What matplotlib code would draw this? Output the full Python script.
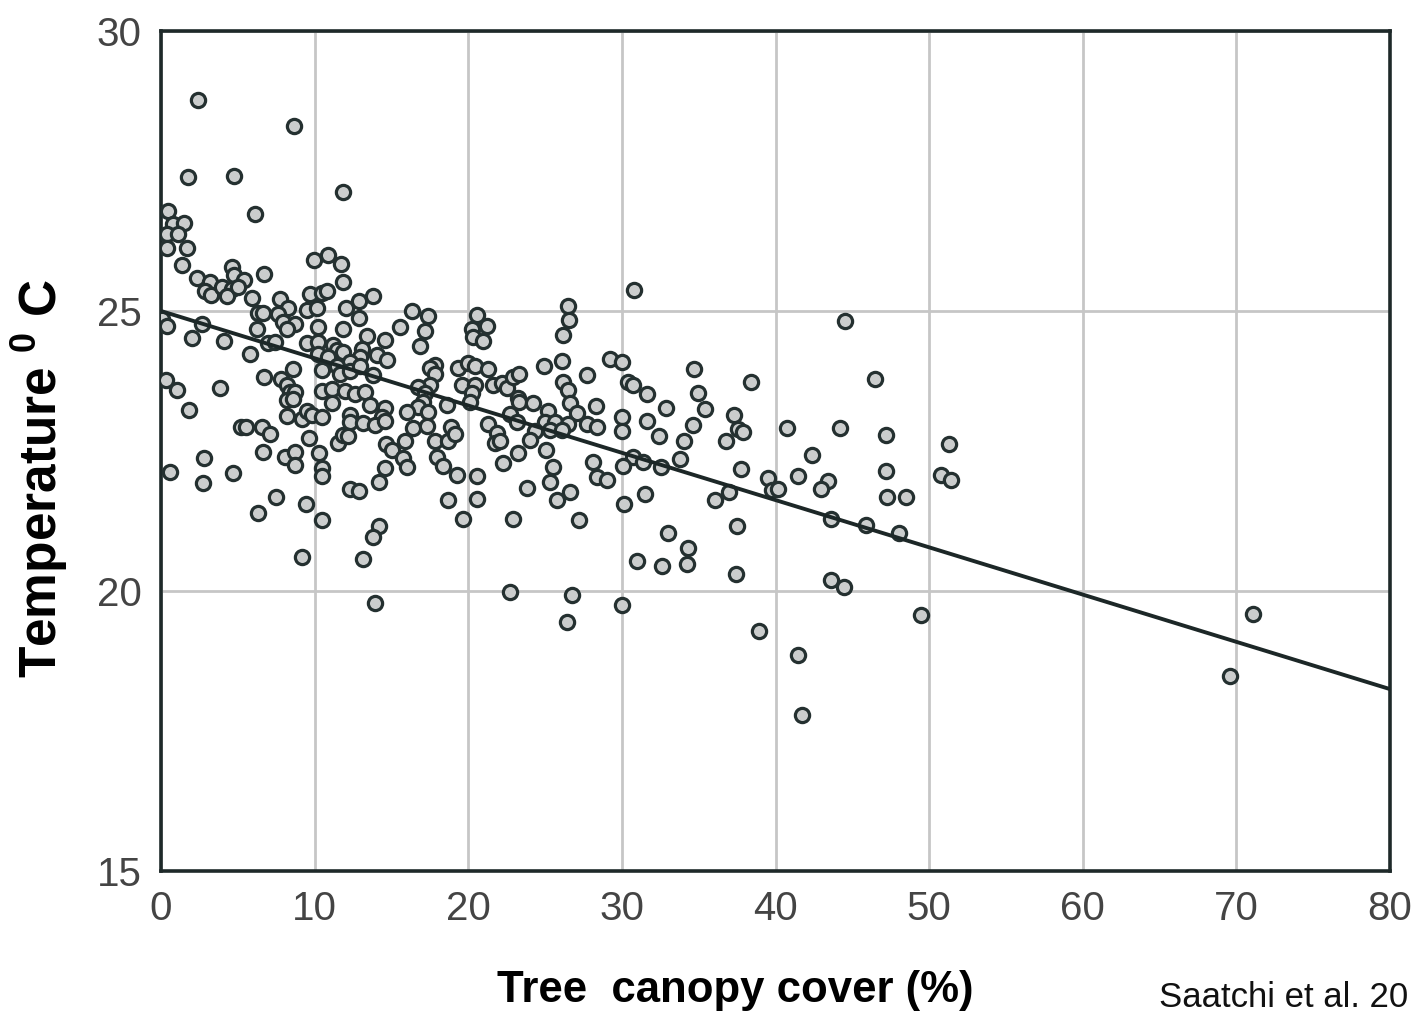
#!/usr/bin/env python3
"""
Scatter of land surface temperature against tree canopy cover, with a linear fit.
Recreation of the Saatchi et al. figure.
"""
import numpy as np
import matplotlib.pyplot as plt

# canopy cover (%) and temperature (deg C), grouped by cover range
cover_0_10 = [2.43, 8.68, 1.78, 4.77, 6.12, 0.48, 0.80, 1.52, 0.37, 1.09,
              0.41, 1.71, 1.35, 2.34, 4.60, 4.77, 5.42, 6.71, 3.19, 2.86,
              3.26, 3.95, 4.64, 4.28, 5.03, 5.94, 9.98, 7.75, 8.29, 9.70,
              10.46, 6.33, 6.66, 7.64, 9.49, 10.14, 0.05, 0.37, 2.65, 7.96,
              8.72, 6.23, 8.18, 10.24, 2.00, 4.10, 5.79, 6.99, 7.42, 9.49,
              10.24, 10.24, 8.61, 10.46, 0.31, 1.02, 3.84, 6.71, 7.81, 8.18,
              8.40, 8.72, 8.18, 8.61, 10.46, 1.84, 5.21, 5.51, 6.56, 7.10,
              8.22, 9.16, 9.49, 9.81, 10.46, 9.65, 6.66, 8.07, 8.72, 8.72,
              10.29, 10.46, 10.46, 2.80, 0.59, 2.75, 4.67, 7.47, 9.42, 6.33,
              10.46, 9.16]
temp_0_10 = [28.77, 28.31, 27.39, 27.41, 26.73, 26.79, 26.55, 26.58, 26.37, 26.37,
             26.12, 26.13, 25.82, 25.59, 25.79, 25.64, 25.55, 25.66, 25.51, 25.36,
             25.29, 25.42, 25.39, 25.26, 25.43, 25.24, 25.91, 25.21, 25.05, 25.31,
             25.33, 24.96, 24.96, 24.94, 25.01, 25.05, 24.85, 24.73, 24.76, 24.81,
             24.76, 24.67, 24.67, 24.72, 24.52, 24.47, 24.23, 24.42, 24.45, 24.42,
             24.45, 24.23, 23.96, 23.95, 23.77, 23.59, 23.63, 23.83, 23.78, 23.68,
             23.56, 23.56, 23.41, 23.43, 23.57, 23.23, 22.93, 22.93, 22.93, 22.80,
             23.13, 23.07, 23.21, 23.14, 23.11, 22.74, 22.48, 22.40, 22.48, 22.25,
             22.46, 22.19, 22.05, 22.37, 22.13, 21.93, 22.10, 21.67, 21.55, 21.40,
             21.26, 20.61]

cover_10_20 = [10.89, 11.70, 11.87, 10.79, 12.04, 12.91, 13.82, 12.91, 16.32, 17.40,
               15.56, 17.19, 20.23, 20.55, 20.33, 11.87, 13.43, 14.58, 16.86, 11.22,
               11.44, 13.07, 11.87, 10.89, 12.95, 14.04, 14.69, 12.30, 11.44, 11.65,
               12.30, 12.95, 13.82, 17.84, 17.51, 17.84, 19.35, 20.00, 20.44, 17.51,
               16.75, 19.58, 20.44, 11.11, 11.98, 12.63, 13.28, 17.19, 17.08, 20.23,
               20.12, 11.11, 13.61, 14.58, 16.75, 18.60, 17.40, 15.99, 12.30, 14.37,
               12.30, 13.12, 13.93, 14.58, 16.42, 17.30, 18.88, 11.54, 11.87, 12.19,
               14.65, 15.02, 15.88, 17.84, 18.70, 19.14, 15.77, 15.99, 17.95, 18.38,
               19.25, 20.55, 20.55, 14.58, 14.21, 12.30, 12.91, 18.70, 19.64, 14.21,
               13.78, 13.17, 13.93, 11.85]
temp_10_20 = [26.00, 25.84, 25.52, 25.36, 25.05, 25.18, 25.26, 24.87, 25.00, 24.91,
              24.72, 24.65, 24.67, 24.93, 24.53, 24.68, 24.55, 24.49, 24.38, 24.39,
              24.30, 24.32, 24.26, 24.18, 24.18, 24.21, 24.13, 24.09, 24.01, 23.88,
              23.92, 24.01, 23.86, 24.04, 23.98, 23.88, 23.99, 24.07, 24.01, 23.68,
              23.65, 23.68, 23.68, 23.60, 23.58, 23.52, 23.56, 23.53, 23.38, 23.53,
              23.38, 23.36, 23.32, 23.26, 23.29, 23.32, 23.20, 23.20, 23.14, 23.11,
              23.02, 23.00, 22.97, 23.04, 22.91, 22.94, 22.93, 22.65, 22.79, 22.76,
              22.63, 22.52, 22.67, 22.68, 22.68, 22.80, 22.37, 22.22, 22.39, 22.24,
              22.07, 22.06, 21.64, 22.20, 21.95, 21.82, 21.79, 21.63, 21.28, 21.16,
              20.97, 20.57, 19.78, 27.12]

cover_20_31 = [30.81, 26.52, 26.58, 21.24, 20.98, 26.19, 21.31, 24.93, 26.08, 29.23,
               29.99, 27.71, 21.63, 22.18, 22.51, 22.93, 23.33, 26.19, 26.52, 30.42,
               30.71, 23.26, 23.33, 24.24, 26.63, 27.06, 28.32, 22.72, 25.21, 21.31,
               23.16, 25.00, 25.65, 26.52, 27.71, 28.36, 29.99, 29.99, 21.85, 24.35,
               25.33, 26.08, 21.74, 22.07, 24.02, 23.26, 25.06, 30.75, 22.28, 25.54,
               28.14, 30.09, 25.33, 23.84, 28.36, 29.01, 26.63, 25.80, 30.16, 22.93,
               27.21, 30.97, 22.72, 26.74, 29.99, 26.45]
temp_20_31 = [25.38, 25.09, 24.84, 24.74, 24.47, 24.57, 23.96, 24.02, 24.11, 24.14,
              24.09, 23.86, 23.68, 23.71, 23.62, 23.82, 23.88, 23.74, 23.59, 23.74,
              23.67, 23.44, 23.38, 23.36, 23.35, 23.17, 23.31, 23.16, 23.22, 22.99,
              23.02, 23.02, 23.02, 22.98, 22.99, 22.93, 23.11, 22.86, 22.83, 22.86,
              22.88, 22.88, 22.65, 22.68, 22.70, 22.47, 22.52, 22.40, 22.28, 22.21,
              22.31, 22.23, 21.94, 21.84, 22.04, 21.98, 21.77, 21.63, 21.55, 21.29,
              21.27, 20.54, 19.99, 19.93, 19.75, 19.45]

cover_31_42 = [34.72, 38.39, 31.62, 34.98, 32.88, 35.42, 37.30, 31.62, 34.61, 40.73,
               37.58, 37.91, 32.44, 34.07, 36.76, 31.36, 32.53, 33.79, 37.76, 39.50,
               39.80, 40.19, 41.49, 36.98, 36.07, 31.51, 37.48, 32.99, 34.33, 32.63,
               34.22, 37.41, 38.93, 41.49, 41.70]
temp_31_42 = [23.96, 23.73, 23.51, 23.54, 23.27, 23.25, 23.14, 23.04, 22.96, 22.91,
              22.89, 22.84, 22.76, 22.68, 22.67, 22.31, 22.22, 22.35, 22.17, 22.01,
              21.80, 21.82, 22.06, 21.76, 21.63, 21.73, 21.16, 21.03, 20.77, 20.45,
              20.48, 20.30, 19.29, 18.86, 17.79]

cover_42_up = [44.53, 46.48, 44.21, 47.18, 51.30, 42.36, 43.44, 42.95, 47.18, 50.76,
               51.41, 47.25, 48.50, 43.60, 45.90, 48.06, 43.62, 44.48, 49.48, 71.11,
               69.60]
temp_42_up = [24.83, 23.79, 22.91, 22.79, 22.63, 22.42, 21.96, 21.82, 22.14, 22.07,
              21.98, 21.67, 21.68, 21.28, 21.18, 21.04, 20.20, 20.07, 19.57, 19.59,
              18.48]

# linear fit drawn on the figure
fit_intercept = 25.0
fit_slope = -0.0844

x_ticks = [0, 10, 20, 30, 40, 50, 60, 70, 80]
y_ticks = [15, 20, 25, 30]

REGULAR = ['Liberation Sans', 'DejaVu Sans']
plt.rcParams['mathtext.fontset'] = 'custom'
plt.rcParams['mathtext.rm'] = 'Liberation Sans'
plt.rcParams['mathtext.bf'] = 'Liberation Sans:bold'

cover = np.array(cover_0_10 + cover_10_20 + cover_20_31 + cover_31_42 + cover_42_up)
temp = np.array(temp_0_10 + temp_10_20 + temp_20_31 + temp_31_42 + temp_42_up)

W, H = 1413, 1013
fig = plt.figure(figsize=(W / 100, H / 100), dpi=100)
ax = fig.add_axes([161 / W, 1 - 871 / H, 1229 / W, 840 / H])

ax.scatter(cover, temp, s=105, facecolor='#cbcdcd', edgecolor='#243030',
           linewidths=2.3, zorder=3)
xs = np.array([0, 80])
ax.plot(xs, fit_intercept + fit_slope * xs, color='#1c2727', lw=2.8,
        solid_capstyle='butt', zorder=4)

ax.set_xlim(0, 80)
ax.set_ylim(15, 30)
ax.set_xticks(x_ticks)
ax.set_yticks(y_ticks)
ax.grid(True, color='#c6c6c6', lw=2.0, zorder=0)
ax.set_axisbelow(True)
for sp in ax.spines.values():
    sp.set_color('#1e2929')
    sp.set_linewidth(2.6)
ax.tick_params(length=0, labelsize=29, labelcolor='#444444')
ax.tick_params(axis='x', pad=14)
ax.tick_params(axis='y', pad=14)
for lab in ax.get_xticklabels() + ax.get_yticklabels():
    lab.set_family(REGULAR)

fig.text(40 / W, 1 - 478 / H, r'Temperature $^{\mathbf{0}}$ C', rotation=90, ha='center',
         va='center', fontsize=37, fontweight='bold', family=REGULAR)
fig.text(735 / W, 1 - 990 / H, 'Tree  canopy cover (%)', ha='center', va='center',
         fontsize=31.5, fontweight='bold', family=REGULAR)
fig.text(1408 / W, 1 - 997 / H, 'Saatchi et al. 20', ha='right', va='center',
         fontsize=25, family=REGULAR, color='#111111')

fig.savefig('out.png', dpi=100)
